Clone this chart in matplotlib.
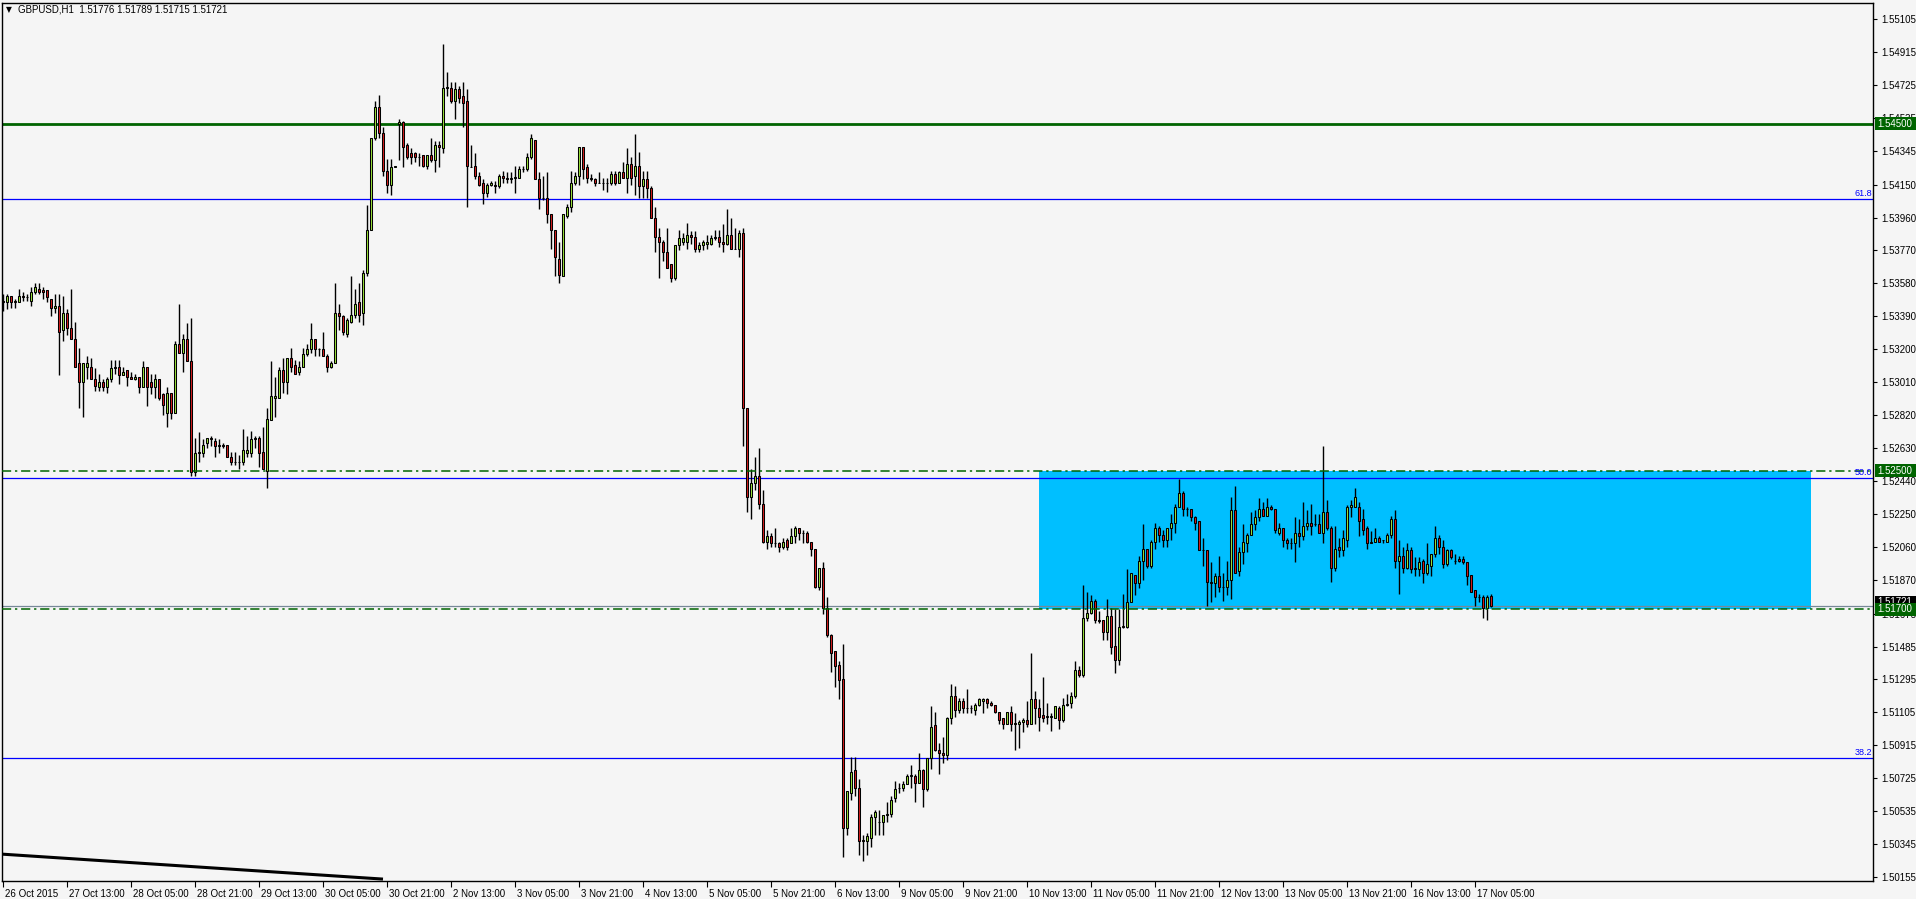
import matplotlib
matplotlib.use('Agg')
import matplotlib.pyplot as plt
import matplotlib.transforms as mtransforms
from matplotlib.patches import Rectangle
import numpy as np

# ---------------- data (GBPUSD H1, bar 0 = 26 Oct 2015 21:00) ----------------
opens = [
1.5348,1.5347,1.5351,1.5347,1.5347,1.5351,1.5350,1.5348,1.5353,1.5355,
1.5354,1.5354,1.5349,1.5344,1.5345,1.5331,1.5341,1.5332,1.5326,1.5312,
1.5301,1.5310,1.5310,1.5303,1.5298,1.5301,1.5298,1.5303,1.5309,1.5310,
1.5305,1.5308,1.5304,1.5303,1.5304,1.5298,1.5310,1.5301,1.5298,1.5303,
1.5294,1.5283,1.5295,1.5283,1.5323,1.5318,1.5326,1.5313,1.5249,1.5261,
1.5260,1.5266,1.5269,1.5267,1.5264,1.5265,1.5265,1.5258,1.5255,1.5255,
1.5255,1.5260,1.5260,1.5268,1.5269,1.5261,1.5250,1.5279,1.5292,1.5292,
1.5308,1.5301,1.5315,1.5311,1.5307,1.5310,1.5317,1.5320,1.5326,1.5320,
1.5320,1.5316,1.5310,1.5312,1.5341,1.5339,1.5329,1.5336,1.5340,1.5347,
1.5341,1.5364,1.5389,1.5442,1.5460,1.5445,1.5423,1.5415,1.5425,1.5450,
1.5451,1.5438,1.5433,1.5433,1.5431,1.5432,1.5426,1.5432,1.5429,1.5438,
1.5436,1.5471,1.5471,1.5463,1.5470,1.5466,1.5463,1.5425,1.5426,1.5420,
1.5416,1.5410,1.5415,1.5415,1.5414,1.5420,1.5419,1.5418,1.5419,1.5419,
1.5424,1.5424,1.5431,1.5441,1.5418,1.5407,1.5407,1.5398,1.5389,1.5372,
1.5362,1.5397,1.5402,1.5416,1.5420,1.5437,1.5425,1.5419,1.5418,1.5416,
1.5416,1.5416,1.5416,1.5421,1.5416,1.5422,1.5419,1.5427,1.5420,1.5426,
1.5414,1.5418,1.5413,1.5396,1.5385,1.5382,1.5376,1.5369,1.5361,1.5380,
1.5382,1.5382,1.5386,1.5385,1.5378,1.5380,1.5381,1.5381,1.5384,1.5385,
1.5382,1.5381,1.5386,1.5378,1.5378,1.5387,1.5286,1.5235,1.5243,1.5247,
1.5231,1.5209,1.5212,1.5208,1.5208,1.5206,1.5210,1.5208,1.5212,1.5217,
1.5214,1.5214,1.5209,1.5205,1.5183,1.5194,1.5171,1.5155,1.5146,1.5138,
1.5130,1.5044,1.5064,1.5077,1.5067,1.5037,1.5036,1.5038,1.5050,1.5047,
1.5047,1.5051,1.5052,1.5061,1.5067,1.5067,1.5069,1.5074,1.5074,1.5070,
1.5077,1.5066,1.5084,1.5103,1.5089,1.5087,1.5086,1.5107,1.5120,1.5112,
1.5117,1.5113,1.5113,1.5112,1.5115,1.5117,1.5118,1.5116,1.5115,1.5111,
1.5107,1.5104,1.5111,1.5104,1.5104,1.5105,1.5106,1.5104,1.5118,1.5113,
1.5109,1.5108,1.5108,1.5107,1.5113,1.5106,1.5115,1.5116,1.5120,1.5135,
1.5132,1.5165,1.5168,1.5175,1.5164,1.5164,1.5157,1.5166,1.5149,1.5141,
1.5160,1.5160,1.5174,1.5190,1.5185,1.5198,1.5205,1.5195,1.5209,1.5217,
1.5213,1.5210,1.5217,1.5220,1.5229,1.5237,1.5228,1.5228,1.5223,1.5221,
1.5204,1.5204,1.5186,1.5185,1.5189,1.5183,1.5183,1.5187,1.5227,1.5192,
1.5203,1.5208,1.5213,1.5219,1.5223,1.5228,1.5224,1.5229,1.5228,1.5214,
1.5217,1.5210,1.5208,1.5208,1.5214,1.5212,1.5218,1.5220,1.5219,1.5219,
1.5214,1.5226,1.5217,1.5194,1.5206,1.5204,1.5210,1.5229,1.5229,1.5229,
1.5222,1.5217,1.5208,1.5209,1.5211,1.5210,1.5209,1.5213,1.5222,1.5198,
1.5201,1.5194,1.5204,1.5194,1.5193,1.5198,1.5191,1.5195,1.5202,1.5211,
1.5206,1.5196,1.5204,1.5198,1.5199,1.5199,1.5197,1.5190,1.5181,1.5177,
1.5177,1.5171,1.51776]

highs = [
1.5352,1.5352,1.5351,1.5349,1.5355,1.5353,1.5352,1.5356,1.5358,1.5358,
1.5356,1.5354,1.5349,1.5352,1.5352,1.5351,1.5343,1.5355,1.5336,1.5321,
1.5312,1.5316,1.5315,1.5309,1.5306,1.5303,1.5304,1.5314,1.5314,1.5314,
1.5310,1.5308,1.5307,1.5306,1.5304,1.5313,1.5310,1.5306,1.5306,1.5303,
1.5295,1.5298,1.5295,1.5325,1.5346,1.5329,1.5335,1.5338,1.5269,1.5272,
1.5268,1.5269,1.5270,1.5269,1.5268,1.5266,1.5265,1.5261,1.5261,1.5259,
1.5274,1.5270,1.5273,1.5270,1.5270,1.5275,1.5286,1.5313,1.5304,1.5310,
1.5315,1.5315,1.5321,1.5314,1.5313,1.5321,1.5323,1.5335,1.5326,1.5321,
1.5330,1.5317,1.5313,1.5358,1.5346,1.5340,1.5338,1.5362,1.5355,1.5358,
1.5366,1.5403,1.5442,1.5463,1.5467,1.5448,1.5430,1.5430,1.5426,1.5453,
1.5452,1.5439,1.5436,1.5434,1.5433,1.5432,1.5432,1.5442,1.5440,1.5440,
1.5496,1.5480,1.5474,1.5474,1.5472,1.5474,1.5470,1.5438,1.5433,1.5422,
1.5418,1.5416,1.5417,1.5417,1.5421,1.5423,1.5422,1.5422,1.5426,1.5426,
1.5426,1.5433,1.5444,1.5441,1.5422,1.5420,1.5422,1.5398,1.5389,1.5382,
1.5398,1.5404,1.5423,1.5422,1.5437,1.5437,1.5427,1.5421,1.5419,1.5422,
1.5419,1.5419,1.5423,1.5423,1.5423,1.5428,1.5436,1.5431,1.5444,1.5434,
1.5423,1.5423,1.5414,1.5402,1.5390,1.5383,1.5390,1.5369,1.5380,1.5389,
1.5387,1.5393,1.5388,1.5388,1.5382,1.5383,1.5386,1.5386,1.5389,1.5389,
1.5392,1.5401,1.5396,1.5390,1.5389,1.5390,1.5286,1.5251,1.5258,1.5263,
1.5239,1.5216,1.5214,1.5217,1.5209,1.5211,1.5211,1.5217,1.5218,1.5217,
1.5216,1.5215,1.5209,1.5205,1.5194,1.5197,1.5177,1.5156,1.5146,1.5140,
1.5150,1.5065,1.5085,1.5085,1.5072,1.5040,1.5041,1.5052,1.5054,1.5054,
1.5051,1.5059,1.5062,1.5071,1.5070,1.5071,1.5075,1.5080,1.5075,1.5087,
1.5078,1.5084,1.5114,1.5111,1.5093,1.5096,1.5108,1.5127,1.5126,1.5119,
1.5119,1.5124,1.5115,1.5116,1.5119,1.5119,1.5119,1.5117,1.5115,1.5111,
1.5107,1.5111,1.5114,1.5110,1.5106,1.5107,1.5117,1.5145,1.5123,1.5118,
1.5131,1.5116,1.5110,1.5114,1.5114,1.5119,1.5121,1.5122,1.5140,1.5137,
1.5184,1.5180,1.5178,1.5176,1.5169,1.5164,1.5176,1.5171,1.5170,1.5170,
1.5179,1.5193,1.5191,1.5190,1.5201,1.5219,1.5205,1.5210,1.5220,1.5218,
1.5216,1.5217,1.5225,1.5231,1.5245,1.5238,1.5229,1.5228,1.5224,1.5221,
1.5211,1.5204,1.5197,1.5191,1.5201,1.5191,1.5198,1.5235,1.5241,1.5206,
1.5219,1.5214,1.5226,1.5227,1.5234,1.5232,1.5234,1.5230,1.5228,1.5220,
1.5217,1.5211,1.5211,1.5223,1.5222,1.5232,1.5227,1.5231,1.5225,1.5225,
1.5264,1.5233,1.5218,1.5218,1.5211,1.5216,1.5230,1.5233,1.5240,1.5232,
1.5228,1.5218,1.5215,1.5217,1.5212,1.5210,1.5214,1.5224,1.5227,1.5210,
1.5206,1.5208,1.5206,1.5200,1.5200,1.5199,1.5208,1.5202,1.5218,1.5213,
1.5210,1.5205,1.5205,1.5202,1.5201,1.5201,1.5197,1.5190,1.5181,1.5179,
1.5178,1.5178,1.51789]

lows = [
1.5342,1.5343,1.5344,1.5344,1.5347,1.5348,1.5348,1.5345,1.5352,1.5352,
1.5349,1.5347,1.5339,1.5341,1.5305,1.5325,1.5328,1.5326,1.5310,1.5286,
1.5281,1.5303,1.5303,1.5296,1.5296,1.5296,1.5295,1.5301,1.5306,1.5300,
1.5305,1.5299,1.5303,1.5302,1.5295,1.5298,1.5287,1.5294,1.5292,1.5291,
1.5282,1.5275,1.5280,1.5283,1.5318,1.5307,1.5313,1.5247,1.5247,1.5255,
1.5258,1.5263,1.5264,1.5258,1.5260,1.5263,1.5258,1.5253,1.5253,1.5251,
1.5253,1.5258,1.5258,1.5263,1.5252,1.5251,1.5240,1.5279,1.5281,1.5292,
1.5295,1.5294,1.5307,1.5306,1.5305,1.5310,1.5316,1.5318,1.5316,1.5316,
1.5316,1.5307,1.5309,1.5312,1.5331,1.5328,1.5327,1.5335,1.5338,1.5336,
1.5334,1.5362,1.5389,1.5441,1.5442,1.5420,1.5410,1.5409,1.5425,1.5429,
1.5425,1.5430,1.5427,1.5428,1.5426,1.5425,1.5424,1.5428,1.5422,1.5425,
1.5433,1.5466,1.5462,1.5453,1.5462,1.5448,1.5402,1.5425,1.5418,1.5414,
1.5404,1.5408,1.5414,1.5410,1.5413,1.5416,1.5416,1.5416,1.5410,1.5419,
1.5422,1.5423,1.5430,1.5418,1.5401,1.5406,1.5393,1.5378,1.5362,1.5358,
1.5362,1.5396,1.5399,1.5415,1.5415,1.5418,1.5416,1.5417,1.5414,1.5416,
1.5412,1.5411,1.5415,1.5415,1.5416,1.5419,1.5410,1.5415,1.5409,1.5407,
1.5407,1.5407,1.5396,1.5376,1.5361,1.5371,1.5367,1.5359,1.5360,1.5377,
1.5380,1.5378,1.5381,1.5376,1.5376,1.5377,1.5378,1.5380,1.5383,1.5379,
1.5376,1.5380,1.5378,1.5378,1.5373,1.5264,1.5226,1.5222,1.5239,1.5228,
1.5208,1.5205,1.5206,1.5206,1.5203,1.5205,1.5204,1.5208,1.5208,1.5210,
1.5208,1.5208,1.5201,1.5182,1.5181,1.5167,1.5154,1.5134,1.5125,1.5118,
1.5027,1.5040,1.5060,1.5062,1.5028,1.5025,1.5028,1.5033,1.5040,1.5040,
1.5040,1.5047,1.5050,1.5059,1.5064,1.5065,1.5069,1.5067,1.5059,1.5070,
1.5056,1.5065,1.5078,1.5088,1.5075,1.5081,1.5083,1.5104,1.5108,1.5110,
1.5110,1.5110,1.5110,1.5109,1.5114,1.5110,1.5113,1.5114,1.5110,1.5104,
1.5101,1.5104,1.5100,1.5089,1.5090,1.5099,1.5102,1.5104,1.5104,1.5100,
1.5105,1.5104,1.5100,1.5107,1.5101,1.5105,1.5114,1.5113,1.5119,1.5131,
1.5131,1.5163,1.5167,1.5162,1.5162,1.5152,1.5152,1.5144,1.5133,1.5138,
1.5159,1.5159,1.5174,1.5178,1.5182,1.5187,1.5194,1.5194,1.5205,1.5209,
1.5206,1.5206,1.5210,1.5214,1.5229,1.5224,1.5224,1.5221,1.5216,1.5204,
1.5195,1.5172,1.5174,1.5177,1.5180,1.5175,1.5178,1.5176,1.5191,1.5189,
1.5196,1.5203,1.5213,1.5216,1.5221,1.5224,1.5224,1.5227,1.5214,1.5213,
1.5206,1.5205,1.5205,1.5197,1.5206,1.5210,1.5216,1.5213,1.5218,1.5214,
1.5208,1.5216,1.5186,1.5192,1.5200,1.5201,1.5206,1.5223,1.5229,1.5212,
1.5213,1.5205,1.5208,1.5209,1.5209,1.5208,1.5209,1.5211,1.5194,1.5179,
1.5191,1.5193,1.5191,1.5189,1.5189,1.5185,1.5190,1.5189,1.5200,1.5202,
1.5194,1.5195,1.5199,1.5196,1.5197,1.5196,1.5184,1.5180,1.5172,1.5174,
1.5165,1.5164,1.51715]

closes = [
1.5347,1.5351,1.5347,1.5348,1.5351,1.5350,1.5350,1.5353,1.5356,1.5353,
1.5353,1.5350,1.5344,1.5345,1.5330,1.5341,1.5332,1.5326,1.5310,1.5301,
1.5312,1.5312,1.5303,1.5299,1.5301,1.5298,1.5303,1.5309,1.5310,1.5305,
1.5307,1.5304,1.5303,1.5304,1.5298,1.5310,1.5298,1.5298,1.5303,1.5292,
1.5288,1.5295,1.5283,1.5323,1.5318,1.5326,1.5313,1.5249,1.5260,1.5260,
1.5265,1.5269,1.5268,1.5264,1.5265,1.5264,1.5258,1.5255,1.5255,1.5255,
1.5262,1.5262,1.5268,1.5269,1.5260,1.5251,1.5280,1.5293,1.5293,1.5308,
1.5301,1.5315,1.5310,1.5306,1.5310,1.5317,1.5320,1.5326,1.5320,1.5320,
1.5316,1.5310,1.5312,1.5341,1.5339,1.5330,1.5337,1.5340,1.5346,1.5340,
1.5364,1.5389,1.5442,1.5460,1.5445,1.5423,1.5415,1.5425,1.5426,1.5451,
1.5437,1.5431,1.5431,1.5431,1.5431,1.5426,1.5432,1.5429,1.5438,1.5437,
1.5471,1.5471,1.5463,1.5470,1.5465,1.5462,1.5426,1.5425,1.5420,1.5415,
1.5410,1.5415,1.5416,1.5414,1.5420,1.5419,1.5418,1.5419,1.5419,1.5424,
1.5424,1.5431,1.5442,1.5418,1.5407,1.5407,1.5398,1.5389,1.5373,1.5363,
1.5398,1.5402,1.5416,1.5420,1.5437,1.5424,1.5419,1.5418,1.5416,1.5416,
1.5416,1.5416,1.5421,1.5416,1.5422,1.5419,1.5427,1.5419,1.5426,1.5414,
1.5418,1.5413,1.5396,1.5385,1.5382,1.5376,1.5367,1.5361,1.5380,1.5384,
1.5384,1.5386,1.5385,1.5378,1.5380,1.5382,1.5382,1.5384,1.5385,1.5382,
1.5381,1.5386,1.5378,1.5378,1.5387,1.5286,1.5235,1.5243,1.5247,1.5231,
1.5209,1.5212,1.5208,1.5208,1.5206,1.5209,1.5206,1.5212,1.5217,1.5214,
1.5214,1.5209,1.5205,1.5183,1.5194,1.5171,1.5155,1.5145,1.5137,1.5129,
1.5044,1.5065,1.5076,1.5067,1.5036,1.5036,1.5039,1.5050,1.5053,1.5047,
1.5051,1.5052,1.5060,1.5066,1.5067,1.5069,1.5074,1.5074,1.5070,1.5077,
1.5066,1.5084,1.5102,1.5089,1.5087,1.5086,1.5107,1.5120,1.5112,1.5117,
1.5113,1.5113,1.5113,1.5115,1.5118,1.5118,1.5116,1.5115,1.5111,1.5106,
1.5104,1.5111,1.5104,1.5104,1.5105,1.5106,1.5104,1.5118,1.5113,1.5108,
1.5107,1.5108,1.5108,1.5114,1.5106,1.5115,1.5115,1.5120,1.5135,1.5132,
1.5165,1.5168,1.5175,1.5164,1.5163,1.5157,1.5166,1.5148,1.5141,1.5160,
1.5160,1.5174,1.5191,1.5185,1.5198,1.5205,1.5195,1.5209,1.5217,1.5213,
1.5210,1.5217,1.5220,1.5229,1.5237,1.5228,1.5228,1.5223,1.5220,1.5204,
1.5204,1.5186,1.5185,1.5189,1.5183,1.5183,1.5187,1.5227,1.5191,1.5203,
1.5209,1.5213,1.5219,1.5223,1.5228,1.5224,1.5229,1.5228,1.5216,1.5217,
1.5210,1.5208,1.5208,1.5214,1.5212,1.5218,1.5220,1.5218,1.5219,1.5214,
1.5226,1.5217,1.5194,1.5205,1.5204,1.5211,1.5229,1.5230,1.5235,1.5221,
1.5216,1.5208,1.5209,1.5211,1.5209,1.5210,1.5213,1.5222,1.5198,1.5201,
1.5194,1.5204,1.5193,1.5193,1.5197,1.5191,1.5196,1.5202,1.5211,1.5206,
1.5196,1.5204,1.5200,1.5198,1.5198,1.5197,1.5189,1.5180,1.5177,1.5177,
1.5171,1.5177,1.51721]

time_labels = ["26 Oct 2015", "27 Oct 13:00", "28 Oct 05:00", "28 Oct 21:00",
               "29 Oct 13:00", "30 Oct 05:00", "30 Oct 21:00", "2 Nov 13:00",
               "3 Nov 05:00", "3 Nov 21:00", "4 Nov 13:00", "5 Nov 05:00",
               "5 Nov 21:00", "6 Nov 13:00", "9 Nov 05:00", "9 Nov 21:00",
               "10 Nov 13:00", "11 Nov 05:00", "11 Nov 21:00", "12 Nov 13:00",
               "13 Nov 05:00", "13 Nov 21:00", "16 Nov 13:00", "17 Nov 05:00"]
time_label_step = 16

price_ticks = [1.55105, 1.54915, 1.54725, 1.54535, 1.54345, 1.54150, 1.53960,
               1.53770, 1.53580, 1.53390, 1.53200, 1.53010, 1.52820, 1.52630,
               1.52440, 1.52250, 1.52060, 1.51870, 1.51675, 1.51485, 1.51295,
               1.51105, 1.50915, 1.50725, 1.50535, 1.50345, 1.50155]

resistance_level = 1.54500
zone_levels = [1.52500, 1.51700]
fib_levels = [1.54067, 1.52457, 1.50841]
fib_names = ["61.8", "50.0", "38.2"]
bid_price = 1.51721
zone_bars = [259, 452]
trend_bars = [-0.25, 95]
trend_prices = [1.50287, 1.50143]
title = "GBPUSD,H1  1.51776 1.51789 1.51715 1.51721"

# ---------------- figure ----------------
W, H = 1916, 899
BG = '#F5F5F5'
BULL = '#9BE23A'
BEAR = '#D41E1E'
DKGREEN = '#006400'
FONT = ['Liberation Sans', 'DejaVu Sans']
plt.rcParams['font.family'] = FONT

fig = plt.figure(figsize=(W / 100, H / 100), dpi=100, facecolor=BG)
ax = fig.add_axes([2 / W, (H - 881) / H, (1873 - 2) / W, (881 - 3) / H])
ax.set_facecolor(BG)
ax.set_xlim(-0.25, 467.5)
ax.set_ylim(1.50132, 1.55198)
for s in ax.spines.values():
    s.set_color('black')
    s.set_linewidth(1.0)

o = np.array(opens); h = np.array(highs); l = np.array(lows); c = np.array(closes)
x = np.arange(len(o))
up = c >= o

# zone rectangle
ax.add_patch(Rectangle((zone_bars[0], min(zone_levels)), zone_bars[1] - zone_bars[0],
                       abs(zone_levels[0] - zone_levels[1]), facecolor='#00BFFF',
                       edgecolor='none', zorder=1))

# horizontal lines
ax.axhline(resistance_level, color=DKGREEN, lw=2.0, zorder=2)
for lv in zone_levels:
    ax.axhline(lv, color=DKGREEN, lw=1.1, dashes=(6, 2.5, 1.5, 2.5), zorder=5)
for lv, nm in zip(fib_levels, fib_names):
    ax.axhline(lv, color='#0000FF', lw=0.9, zorder=2)
    ax.text(467.3, lv + 0.00008, nm, color='#0000FF', fontsize=6.5,
            ha='right', va='bottom', zorder=6)
ax.axhline(bid_price, color='#778899', lw=0.9, zorder=2)

# trend line
ax.plot(trend_bars, trend_prices, color='black', lw=2.2, zorder=2, solid_capstyle='butt')

# candles
ax.vlines(x, l, h, color='black', lw=1.0, zorder=3)
body_bottom = np.minimum(o, c)
body_h = np.maximum(np.abs(c - o), 0.000012)
ax.bar(x, body_h, bottom=body_bottom, width=0.55,
       color=np.where(up, BULL, BEAR), edgecolor='black', linewidth=0.75, zorder=4)

# axes ticks
ax.yaxis.tick_right()
ax.set_yticks(price_ticks)
ax.set_yticklabels([f"{p:.5f}" for p in price_ticks])
ax.tick_params(axis='y', length=3, width=0.8, pad=3, labelsize=7, colors='black')
xt = np.arange(len(time_labels)) * time_label_step
ax.set_xticks(xt)
ax.set_xticklabels(time_labels)
ax.tick_params(axis='x', length=4, width=0.8, pad=2, labelsize=7, colors='black')
offset = mtransforms.ScaledTranslation(2 / 100, 0, fig.dpi_scale_trans)
for lbl in ax.get_xticklabels():
    lbl.set_ha('left')
    lbl.set_transform(lbl.get_transform() + offset)

# price label boxes on the right axis
tr = mtransforms.blended_transform_factory(fig.transFigure, ax.transData)
box_h = 13 / 17316.0
def price_box(price, text, color, z, dy=0.0):
    ax.add_patch(Rectangle((1875 / W, price + dy - box_h / 2), 41 / W, box_h,
                           transform=tr, facecolor=color, edgecolor='none',
                           clip_on=False, zorder=z))
    ax.text(1877 / W, price + dy, text, transform=tr, color='white', fontsize=7,
            va='center', ha='left', clip_on=False, zorder=z + 0.5)

price_box(bid_price, f"{bid_price:.5f}", 'black', 20, dy=0.00018)
price_box(resistance_level, f"{resistance_level:.5f}", DKGREEN, 21)
for lv in zone_levels:
    price_box(lv, f"{lv:.5f}", DKGREEN, 21)

# title
fig.text(6 / W, 1 - 10 / H, '\u25BC', fontsize=5.5, va='center', ha='left',
         family=['DejaVu Sans'])
fig.text(18 / W, 1 - 10 / H, title, fontsize=7, va='center', ha='left')

fig.savefig('out.png', dpi=100, facecolor=BG)
